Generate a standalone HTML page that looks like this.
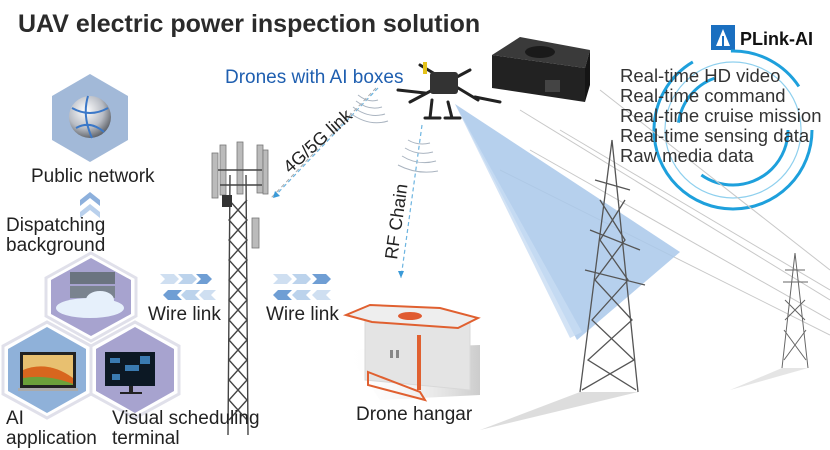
<!DOCTYPE html>
<html><head><meta charset="utf-8"><style>
html,body{margin:0;padding:0;background:#fff;width:830px;height:450px;overflow:hidden}
svg{display:block;font-family:"Liberation Sans",sans-serif}
</style></head><body>
<svg width="830" height="450" viewBox="0 0 830 450" xmlns="http://www.w3.org/2000/svg">
<defs>
<radialGradient id="globe" cx="0.4" cy="0.35" r="0.7"><stop offset="0" stop-color="#fff"/><stop offset="0.6" stop-color="#b8bcc4"/><stop offset="1" stop-color="#55595f"/></radialGradient>
<linearGradient id="shadow" x1="0" y1="0" x2="1" y2="0"><stop offset="0" stop-color="#fff" stop-opacity="0"/><stop offset="1" stop-color="#999"/></linearGradient>
</defs>
<text x="18" y="32" font-size="25" font-weight="bold" fill="#2b2b2b">UAV electric power inspection solution</text>
<rect x="711" y="25" width="24" height="25" fill="#1a6fc0"/>
<path d="M723 29 L730 46 L716 46 Z" fill="#fff"/><rect x="722" y="36" width="2" height="10" fill="#1a6fc0"/>
<text x="740" y="45" font-size="18" font-weight="bold" fill="#111">PLink-AI</text>
<circle cx="733" cy="130" r="79" fill="none" stroke="#1ea0dc" stroke-width="3" stroke-dasharray="330 40 80 50"/>
<circle cx="733" cy="130" r="68" fill="none" stroke="#8fd0ee" stroke-width="1.2"/>
<circle cx="733" cy="130" r="55" fill="none" stroke="#1ea0dc" stroke-width="3" stroke-dasharray="120 60 60 110"/>
<g stroke="#c8c8c8" stroke-width="1" fill="none">
<path d="M520 110 L830 300"/><path d="M530 150 L830 320"/><path d="M500 170 L830 335"/><path d="M560 130 L830 290"/><path d="M600 90 L830 270"/>
</g>
<polygon points="455,104 577,340 680,252" fill="#a9c8ea" opacity="0.85"/>
<polygon points="455,104 570,338 582,332" fill="#c8dcf2" opacity="0.8"/>
<g stroke="#555" stroke-width="1.3" fill="none">
<path d="M612 140 L580 392 M612 140 L638 392"/>
<path d="M590 230 L640 250 M585 270 L645 285 M595 180 L630 190"/>
<path d="M600 200 L625 240 L595 280 L632 320 L588 360 L636 390 M625 200 L600 240 L628 280 L592 320 L634 360 L582 390"/>
</g>
<polygon points="580,392 638,392 480,430" fill="#bbb" opacity="0.5"/>
<g stroke="#666" stroke-width="1" fill="none">
<path d="M795 253 L782 368 M795 253 L808 368 M785 270 L805 270 M783 282 L808 282 M785 300 L805 320 M805 300 L785 320 M784 330 L806 360 M806 330 L784 360"/>
</g>
<polygon points="782,368 808,368 730,390" fill="#ccc" opacity="0.5"/>
<g font-size="18.5" fill="#333">
<text x="620" y="82">Real-time HD video</text>
<text x="620" y="102">Real-time command</text>
<text x="620" y="122">Real-time cruise mission</text>
<text x="620" y="142">Real-time sensing data</text>
<text x="620" y="162">Raw media data</text>
</g>
<polygon points="492,55 520,37 590,50 585,68" fill="#3a3a3a"/>
<polygon points="492,55 585,68 585,102 492,88" fill="#222"/>
<polygon points="585,68 590,50 590,85 585,102" fill="#151515"/>
<ellipse cx="540" cy="52" rx="15" ry="6" fill="#1a1a1a"/>
<rect x="545" y="80" width="15" height="12" fill="#444"/>
<g stroke="#222" stroke-width="3" fill="none" stroke-linecap="round">
<path d="M420 65 L478 100 M470 70 L410 102"/>
<path d="M432 100 L430 118 M448 102 L452 118 M425 118 L440 118 M445 118 L460 118"/>
<path d="M398 90 L425 93 M475 97 L500 102"/>
</g>
<rect x="430" y="72" width="28" height="22" rx="3" fill="#333"/>
<rect x="423" y="62" width="4" height="12" fill="#e4c21a"/>
<text x="225" y="83" font-size="19" fill="#1f5fb0">Drones with AI boxes</text>
<path d="M378 88 L273 198" stroke="#6cb4e0" stroke-width="1.2" stroke-dasharray="4 3"/>
<path d="M376 88 L271 198" stroke="#aaa" stroke-width="1" stroke-dasharray="4 3"/>
<path d="M273 198 l2 -7 l5 5 z" fill="#3a9ad8"/>
<g stroke="#aab4c0" stroke-width="1" fill="none">
<path d="M358 95 q10 8 20 5"/><path d="M356 101 q13 10 26 6"/><path d="M353 107 q16 12 32 7"/><path d="M350 113 q19 14 38 8"/>
</g>
<text transform="translate(290,174) rotate(-42)" font-size="18" fill="#222">4G/5G link</text>
<path d="M422 125 L401 278" stroke="#6cb4e0" stroke-width="1.2" stroke-dasharray="4 3"/>
<path d="M401 278 l-3 -7 l6 0 z" fill="#3a9ad8"/>
<g stroke="#aab4c0" stroke-width="1" fill="none">
<path d="M408 140 q10 6 22 3"/><path d="M405 148 q13 8 28 4"/><path d="M402 156 q16 10 34 5"/><path d="M398 165 q19 10 40 6"/>
</g>
<text transform="translate(397,260) rotate(-82)" font-size="18" fill="#222">RF Chain</text>
<g fill="#bbb" stroke="#777" stroke-width="0.8">
<rect x="212" y="153" width="6" height="45"/><rect x="220" y="145" width="6" height="50"/><rect x="237" y="142" width="6" height="52"/><rect x="257" y="145" width="6" height="48"/><rect x="263" y="150" width="5" height="44"/>
<rect x="252" y="218" width="7" height="30"/>
</g>
<g stroke="#444" stroke-width="1.4" fill="none">
<path d="M230 175 L228 435 M246 175 L248 435"/>
<path d="M218 170 L262 170 M220 185 L262 185"/>
<path d="M229 200 L247 220 L229 240 L247 260 L229 280 L247 300 L229 320 L247 340 L229 360 L247 380 L229 400 L247 420 M247 200 L229 220 L247 240 L229 260 L247 280 L229 300 L247 320 L229 340 L247 360 L229 380 L247 400 L229 420"/>
</g>
<rect x="222" y="195" width="10" height="12" fill="#333"/>
<g fill="#9fc0e4">
<path d="M160 274 h14 l5 5 l-5 5 h-14 l5 -5 z" opacity="0.5"/><path d="M178 274 h14 l5 5 l-5 5 h-14 l5 -5 z" opacity="0.7"/><path d="M196 274 h11 l5 5 l-5 5 h-11 l5 -5 z" fill="#6f9ed4"/>
<path d="M163 295 l5 -5 h14 l-5 5 l5 5 h-14 z" fill="#6f9ed4"/><path d="M181 295 l5 -5 h14 l-5 5 l5 5 h-14 z" opacity="0.7"/><path d="M199 295 l5 -5 h12 l-5 5 l5 5 h-12 z" opacity="0.5"/>
<path d="M273 274 h14 l5 5 l-5 5 h-14 l5 -5 z" opacity="0.5"/><path d="M292 274 h14 l5 5 l-5 5 h-14 l5 -5 z" opacity="0.7"/><path d="M312 274 h14 l5 5 l-5 5 h-14 l5 -5 z" fill="#6f9ed4"/>
<path d="M273 295 l5 -5 h14 l-5 5 l5 5 h-14 z" fill="#6f9ed4"/><path d="M292 295 l5 -5 h14 l-5 5 l5 5 h-14 z" opacity="0.7"/><path d="M312 295 l5 -5 h14 l-5 5 l5 5 h-14 z" opacity="0.5"/>
</g>
<text x="148" y="320" font-size="19" fill="#222">Wire link</text>
<text x="266" y="320" font-size="19" fill="#222">Wire link</text>
<polygon points="345,350 480,345 480,395 380,400" fill="url(#shadow)" opacity="0.5"/>
<polygon points="365,318 470,318 470,390 365,380" fill="#e4e4e4" stroke="#d8d8d8"/>
<polygon points="346,315 370,305 440,308 478,318 458,328 372,322" fill="#eee" stroke="#e06030" stroke-width="2"/>
<ellipse cx="410" cy="316" rx="12" ry="4" fill="#e05a30"/>
<rect x="417" y="335" width="4" height="55" fill="#e06030"/>
<rect x="390" y="350" width="3" height="8" fill="#888"/><rect x="396" y="350" width="3" height="8" fill="#888"/>
<path d="M368 372 L420 392 L425 400 L368 385 Z" fill="none" stroke="#e06030" stroke-width="2"/>
<text x="356" y="420" font-size="19" fill="#222">Drone hangar</text>
<polygon points="90,74 128,96 128,140 90,162 52,140 52,96" fill="#a2b9d8"/>
<circle cx="90" cy="117" r="21" fill="url(#globe)"/>
<path d="M72 108 q18 10 36 0 M76 128 q14 -8 28 4 M88 96 q-6 20 4 42" stroke="#3b78c8" stroke-width="2" fill="none"/>
<text x="31" y="182" font-size="19" fill="#222">Public network</text>
<path d="M80 200 l10 -8 l10 8 v6 l-10 -8 l-10 8 z" fill="#8db0dc"/>
<path d="M80 212 l10 -8 l10 8 v6 l-10 -8 l-10 8 z" fill="#b9d0ec"/>
<text x="6" y="231" font-size="19" fill="#222">Dispatching</text>
<text x="6" y="251" font-size="19" fill="#222">background</text>
<polygon points="91,253 136,278 136,316 91,341 46,316 46,278" fill="#fff" stroke="#e0e0ea" stroke-width="3"/>
<polygon points="91,258 131,280 131,314 91,336 51,314 51,280" fill="#a7a3cf"/>
<rect x="70" y="272" width="45" height="12" fill="#6b7480"/><rect x="70" y="286" width="45" height="12" fill="#7a838f"/>
<ellipse cx="90" cy="308" rx="34" ry="10" fill="#e6f0fb"/><ellipse cx="100" cy="300" rx="14" ry="9" fill="#e6f0fb"/>
<polygon points="47,322 91,346 91,394 47,418 3,394 3,346" fill="#fff" stroke="#e0e0ea" stroke-width="3"/>
<polygon points="47,327 86,349 86,391 47,413 8,391 8,349" fill="#8fb1d9"/>
<rect x="20" y="352" width="56" height="36" fill="#222"/><rect x="23" y="355" width="50" height="30" fill="#e8c070"/>
<path d="M23 370 q25 -10 50 8 v7 h-50 z" fill="#d8661e"/><path d="M23 378 q25 -4 50 6 v1 h-50 z" fill="#6ba03a"/>
<rect x="18" y="388" width="60" height="3" fill="#aaa"/>
<polygon points="135,322 179,346 179,394 135,418 91,394 91,346" fill="#fff" stroke="#e0e0ea" stroke-width="3"/>
<polygon points="135,327 174,349 174,391 135,413 96,391 96,349" fill="#a7a3cf"/>
<rect x="105" y="352" width="50" height="34" fill="#0c1824"/><rect x="129" y="386" width="4" height="6" fill="#222"/><rect x="120" y="392" width="22" height="2" fill="#222"/>
<g fill="#3a7ab0"><rect x="110" y="358" width="10" height="5"/><rect x="125" y="365" width="14" height="6"/><rect x="112" y="374" width="8" height="6"/><rect x="140" y="356" width="10" height="8"/></g>
<text x="6" y="424" font-size="19" fill="#222">AI</text>
<text x="6" y="444" font-size="19" fill="#222">application</text>
<text x="112" y="424" font-size="19" fill="#222">Visual scheduling</text>
<text x="112" y="444" font-size="19" fill="#222">terminal</text>
</svg>
</body></html>
